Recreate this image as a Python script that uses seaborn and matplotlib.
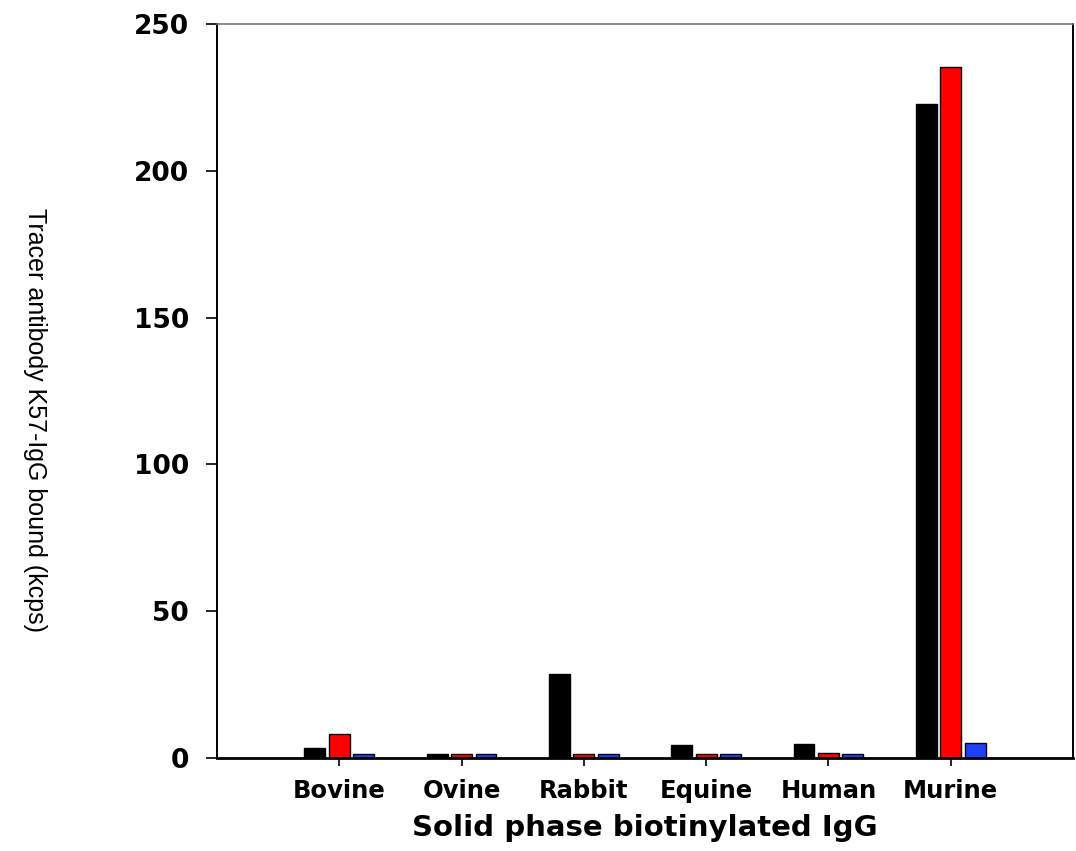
import pandas as pd
import matplotlib
matplotlib.use("Agg")
import matplotlib.pyplot as plt
import seaborn as sns

# values (kcps)
species = ["Bovine", "Ovine", "Rabbit", "Equine", "Human", "Murine"]
series_names = ["Series 1", "Series 2", "Series 3"]
series_1 = [3.3, 1.5, 28.5, 4.3, 4.8, 222.6]
series_2 = [8.1, 1.2, 1.2, 1.3, 1.8, 235.5]
series_3 = [1.4, 1.2, 1.2, 1.2, 1.2, 5.0]
bar_colors = ["#000000", "#ff0000", "#2040ff"]
y_ticks = [0, 50, 100, 150, 200, 250]

rows = []
for name, vals in zip(series_names, [series_1, series_2, series_3]):
    for sp, v in zip(species, vals):
        rows.append({"species": sp, "series": name, "value": v})
df = pd.DataFrame(rows)

sns.set_style("white")
plt.rcParams["font.family"] = ["DejaVu Sans"]
plt.rcParams["text.color"] = "black"
plt.rcParams["axes.labelcolor"] = "black"
plt.rcParams["xtick.color"] = "black"
plt.rcParams["ytick.color"] = "black"

fig = plt.figure(figsize=(10.76, 8.51), dpi=100)
ax = fig.add_axes([217 / 1076, 93 / 851, 856 / 1076, 734 / 851])

sns.barplot(data=df, x="species", y="value", hue="series", order=species,
            hue_order=series_names, palette=bar_colors, saturation=1,
            errorbar=None, width=0.6, gap=0.15, edgecolor="black",
            linewidth=1.0, legend=False, ax=ax)

ax.set_xlim(-1, 6)
ax.set_ylim(0, 250)
ax.set_yticks(y_ticks)
ax.set_yticklabels([str(t) for t in y_ticks], fontsize=19, fontweight="bold")
ax.set_xticks(range(len(species)))
ax.set_xticklabels(species, fontsize=17.5, fontweight="bold")
ax.tick_params(axis="y", direction="out", length=8, width=1.2, pad=12, left=True)
ax.tick_params(axis="x", direction="out", length=6, width=1.2, pad=9, bottom=True)

for side in ["left", "bottom", "right"]:
    ax.spines[side].set_color("black")
    ax.spines[side].set_linewidth(1.4)
ax.spines["bottom"].set_linewidth(2.0)
ax.spines["top"].set_color("#777777")
ax.spines["top"].set_linewidth(1.2)

ax.set_xlabel("Solid phase biotinylated IgG", fontsize=21, fontweight="bold", labelpad=8)
ax.set_ylabel("")
fig.text(35 / 1076, 1 - 420 / 851, "Tracer antibody K57-IgG bound (kcps)",
         rotation=270, ha="center", va="center", fontsize=18,
         family=["Liberation Sans", "DejaVu Sans"])

fig.savefig("out.png", dpi=100)
